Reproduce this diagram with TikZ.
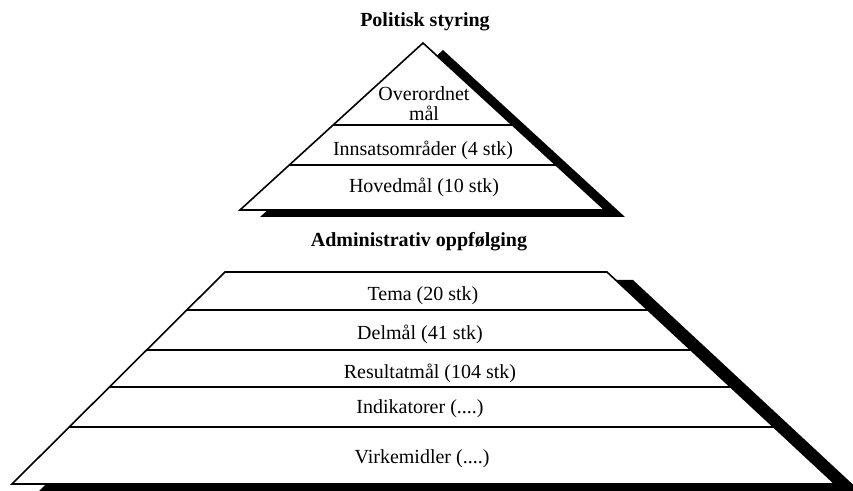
\documentclass[tikz,border=0pt]{standalone}
\usepackage{fontspec}
\setmainfont{Liberation Serif}
\usetikzlibrary{calc}

\tikzset{
    shadow/.style={fill=black, draw=none},
    layer/.style={fill=white, draw=black, line width=0.8pt, line join=miter},
    divider/.style={draw=black, line width=0.8pt},
    label/.style={font=\fontsize{10}{10}\selectfont, align=center, inner sep=0pt},
    heading/.style={font=\fontsize{10}{10}\selectfont\bfseries, inner sep=0pt}
}

\begin{document}
\begin{tikzpicture}[x=0.5pt, y=-0.5pt]
    \useasboundingbox (0,0) rectangle (853,491);
    \clip (0,0) rectangle (853,491);

    % Politisk styring: triangle
    \coordinate (apex) at (423,43);
    \coordinate (tl) at (240,210);
    \coordinate (tr) at (605,210);
    \fill[shadow] ($(apex)+(20,7)$) -- ($(tr)+(20,7)$) -- ($(tl)+(20,7)$) -- cycle;
    \draw[layer] (apex) -- (tr) -- (tl) -- cycle;
    \draw[divider] ($(apex)!0.491!(tl)$) -- ($(apex)!0.491!(tr)$);
    \draw[divider] ($(apex)!0.7305!(tl)$) -- ($(apex)!0.7305!(tr)$);

    \node[heading] (politisk) at (425,22) {Politisk styring};
    \node[label] (overordnet) at (424,104) {Overordnet\\mål};
    \node[label] (innsats) at (423,150) {Innsatsområder (4 stk)};
    \node[label] (hovedmal) at (424,187) {Hovedmål (10 stk)};

    % Administrativ oppfølging: trapezoid
    \node[heading] (admin) at (419,242) {Administrativ oppfølging};
    \coordinate (bl) at (12,484);
    \coordinate (br) at (835,484);
    \coordinate (ul) at (225,272);
    \coordinate (ur) at (607,272);
    \fill[shadow] ($(ul)+(26,8)$) -- ($(ur)+(26,8)$) -- ($(br)+(26,8)$) -- ($(bl)+(26,8)$) -- cycle;
    \draw[layer] (ul) -- (ur) -- (br) -- (bl) -- cycle;
    \foreach \t in {0.1792,0.3679,0.5425,0.7311}
        \draw[divider] ($(ul)!\t!(bl)$) -- ($(ur)!\t!(br)$);

    \node[label] (tema) at (423,296) {Tema (20 stk)};
    \node[label] (delmal) at (420,334) {Delmål (41 stk)};
    \node[label] (resultat) at (430,373) {Resultatmål (104 stk)};
    \node[label] (indikator) at (420,409) {Indikatorer (....)};
    \node[label] (virkemiddel) at (422,459) {Virkemidler (....)};
\end{tikzpicture}
\end{document}
